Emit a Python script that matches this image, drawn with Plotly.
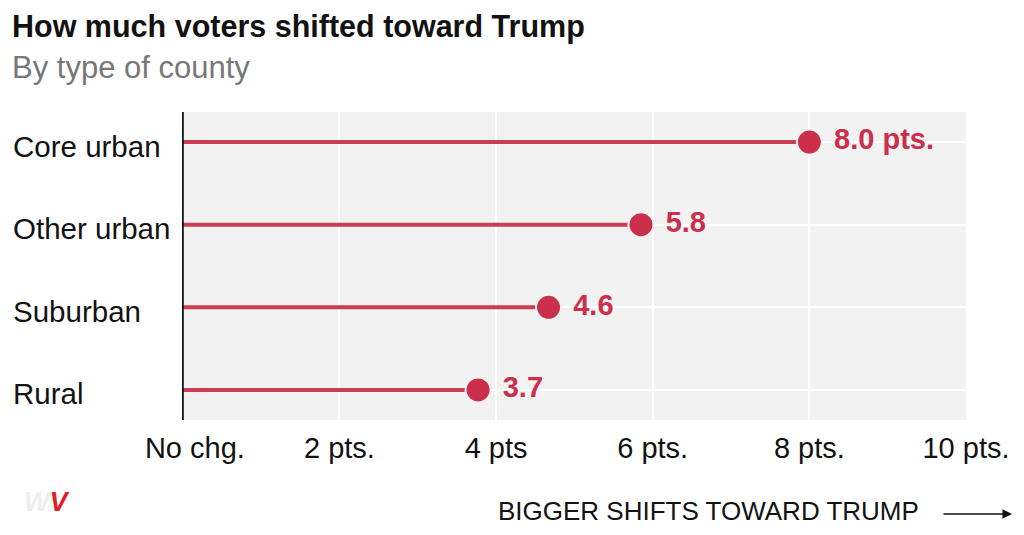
import plotly.graph_objects as go

# Data
categories = ["Core urban", "Other urban", "Suburban", "Rural"]
shift_pts = [8.0, 5.85, 4.67, 3.77]
value_labels = ["8.0 pts.", "5.8", "4.6", "3.7"]
tick_vals = [0, 2, 4, 6, 8, 10]
tick_text = ["No chg.", "2 pts.", "4 pts", "6 pts.", "8 pts.", "10 pts."]

RED = "#cc2f4c"
LINE_RED = "#c93d55"
BG = "#f2f2f2"
FONT = "Liberation Sans, Arial, sans-serif"

n = len(categories)
ypos = [n - 1 - i for i in range(n)]

fig = go.Figure()

# stems
for yv, v in zip(ypos, shift_pts):
    fig.add_trace(go.Scatter(
        x=[0, v], y=[yv, yv], mode="lines",
        line=dict(color=LINE_RED, width=4),
        hoverinfo="skip", showlegend=False,
    ))

# dots with labels
fig.add_trace(go.Scatter(
    x=shift_pts, y=ypos, mode="markers+text",
    marker=dict(color=RED, size=25, line=dict(width=2, color=BG)),
    text=["\u00a0" + t for t in value_labels], textposition="middle right",
    textfont=dict(family=FONT, size=29, color=RED, weight="bold"),
    showlegend=False, cliponaxis=False,
))

annotations = []
# category labels (left aligned)
for yv, c in zip(ypos, categories):
    annotations.append(dict(
        x=-0.218, xref="paper", y=yv, yref="y", text=c,
        showarrow=False, xanchor="left", yanchor="middle", yshift=-4,
        font=dict(family=FONT, size=29.5, color="#121212"),
    ))

# title & subtitle
annotations.append(dict(
    x=-0.219, xref="paper", y=1.276, yref="paper",
    text="<b>How much voters shifted toward Trump</b>",
    showarrow=False, xanchor="left", yanchor="middle",
    font=dict(family=FONT, size=30.5, color="#121212"),
))
annotations.append(dict(
    x=-0.219, xref="paper", y=1.146, yref="paper",
    text="By type of county",
    showarrow=False, xanchor="left", yanchor="middle",
    font=dict(family=FONT, size=31, color="#777777"),
))

# direction note
annotations.append(dict(
    x=0.401, xref="paper", y=-0.2955, yref="paper",
    text="BIGGER SHIFTS TOWARD TRUMP",
    showarrow=False, xanchor="left", yanchor="middle",
    font=dict(family=FONT, size=26, color="#121212"),
))
annotations.append(dict(
    x=1.0587, xref="paper", y=-0.305, yref="paper",
    ax=-70, ay=0, axref="pixel", ayref="pixel",
    text="", showarrow=True, arrowhead=2, arrowsize=1.2,
    arrowwidth=1.6, arrowcolor="#121212",
))

# watermark-like logo
annotations.append(dict(
    x=-0.204, xref="paper", y=-0.266, yref="paper",
    text="<b><i><span style='color:#eeeeee'>W</span><span style='color:#e02020'>V</span></i></b>",
    showarrow=False, xanchor="left", yanchor="middle",
    font=dict(family=FONT, size=27, color="#e02020"),
))

shown_ticks = ["\u00a0\u00a0\u00a0" + tick_text[0]] + tick_text[1:]

fig.update_layout(
    width=1016, height=527,
    margin=dict(l=174, r=58, t=104, b=115),
    paper_bgcolor="white", plot_bgcolor=BG,
    annotations=annotations,
    font=dict(family=FONT, color="#121212"),
    xaxis=dict(
        range=[-0.01, 10.0], tickvals=tick_vals, ticktext=shown_ticks,
        showgrid=True, gridcolor="white", gridwidth=2,
        zeroline=False, showline=False,
        ticks="outside", ticklen=2, tickcolor="rgba(0,0,0,0)",
        tickfont=dict(family=FONT, size=29, color="#121212"),
        fixedrange=True,
    ),
    yaxis=dict(
        range=[-0.363, 3.363], tickvals=ypos, showticklabels=False,
        showgrid=True, gridcolor="white", gridwidth=2,
        zeroline=False, showline=False, fixedrange=True,
    ),
    shapes=[dict(type="line", xref="x", yref="paper", x0=0, x1=0, y0=0, y1=1,
                 line=dict(color="#121212", width=2), layer="above")],
)

fig.write_html("out.html")
